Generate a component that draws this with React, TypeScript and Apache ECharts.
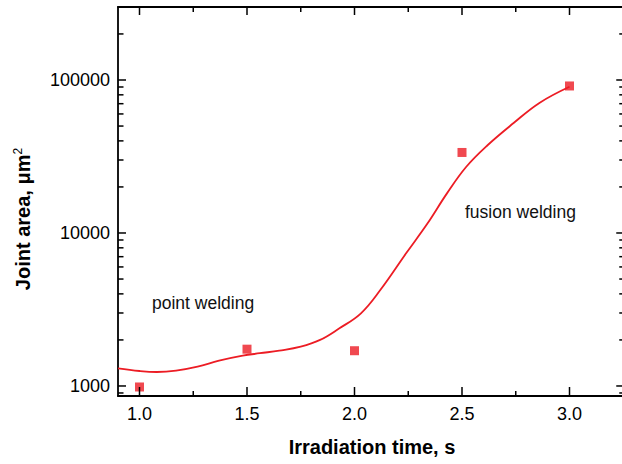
import React, { useEffect, useRef } from "react";
import * as echarts from "echarts";

const pointX = [1.0, 1.5, 2.0, 2.5, 3.0];
const pointY = [985, 1740, 1700, 33600, 91400];

const curveX = [0.9, 1.0, 1.08, 1.17, 1.27, 1.37, 1.48, 1.56, 1.65, 1.75, 1.84, 1.93, 2.03, 2.12, 2.24, 2.34, 2.43, 2.52, 2.62, 2.74, 2.86, 3.0];
const curveY = [1305, 1253, 1234, 1259, 1337, 1463, 1578, 1637, 1702, 1807, 2000, 2383, 2985, 4236, 7362, 11560, 18150, 27100, 37600, 52300, 70800, 90300];

const xMajor = [1.0, 1.5, 2.0, 2.5, 3.0];
const xMinor = [1.25, 1.75, 2.25, 2.75];
const yMajor = [1000, 10000, 100000];
const yMinor = [900, 2000, 3000, 4000, 5000, 6000, 7000, 8000, 9000, 20000, 30000, 40000, 50000, 60000, 70000, 80000, 90000, 200000];

const X_MIN = 0.9;
const X_MAX = 3.25;
const Y_MIN = 860;
const Y_MAX = 300000;

const FONT = "'Liberation Sans', Arial, sans-serif";
const RED = "#ec1c24";
const AX = { color: "#000", width: 1.8 };
const TICK = { stroke: "#000", lineWidth: 1.5 };

export default function App() {
  const ref = useRef<HTMLDivElement>(null);
  useEffect(() => {
    if (!ref.current) return;
    const chart = echarts.init(ref.current, undefined, { renderer: "svg" });

    chart.setOption({
      animation: false,
      backgroundColor: "#fff",
      grid: { left: 118, top: 7, width: 505.25, height: 389, containLabel: false, outerBoundsMode: "none" },
      xAxis: [
        {
          type: "value",
          position: "bottom",
          min: X_MIN,
          max: X_MAX,
          axisLine: { show: true, onZero: false, lineStyle: AX },
          axisTick: { show: false },
          axisLabel: { show: true, customValues: xMajor, formatter: (v: number) => v.toFixed(1), margin: 9, fontSize: 18, color: "#000", fontFamily: FONT },
          splitLine: { show: false },
        },
        {
          type: "value",
          position: "top",
          min: X_MIN,
          max: X_MAX,
          axisLine: { show: true, onZero: false, lineStyle: AX },
          axisTick: { show: false },
          axisLabel: { show: false },
          splitLine: { show: false },
        },
      ],
      yAxis: [
        {
          type: "log",
          logBase: 10,
          position: "left",
          min: Y_MIN,
          max: Y_MAX,
          axisLine: { show: true, onZero: false, lineStyle: AX },
          axisTick: { show: false },
          axisLabel: { show: true, customValues: yMajor, formatter: (v: number) => String(Math.round(v)), margin: 8, fontSize: 18, color: "#000", fontFamily: FONT },
          splitLine: { show: false },
        },
      ],
      series: [
        {
          type: "line",
          data: curveX.map((x, i) => [x, curveY[i]]),
          smooth: 0.4,
          showSymbol: false,
          lineStyle: { color: RED, width: 1.8 },
          z: 2,
        },
        {
          type: "scatter",
          data: pointX.map((x, i) => [x, pointY[i]]),
          symbol: "rect",
          symbolSize: 9,
          itemStyle: { color: RED },
          z: 3,
        },
      ],
    });

    const P = (x: number, y: number) => chart.convertToPixel({ xAxisIndex: 0, yAxisIndex: 0 } as any, [x, y]) as number[];
    const ticks: any[] = [];
    const seg = (x1: number, y1: number, x2: number, y2: number) =>
      ticks.push({ type: "line", silent: true, z: 50, shape: { x1, y1, x2, y2 }, style: TICK });
    xMajor.forEach((v) => {
      const b = P(v, Y_MIN);
      const t = P(v, Y_MAX);
      seg(b[0], b[1], b[0], b[1] - 9);
      seg(t[0], t[1], t[0], t[1] + 8);
    });
    xMinor.forEach((v) => {
      const b = P(v, Y_MIN);
      const t = P(v, Y_MAX);
      seg(b[0], b[1], b[0], b[1] - 5);
      seg(t[0], t[1], t[0], t[1] + 5);
    });
    yMajor.forEach((v) => {
      const l = P(X_MIN, v);
      const r = P(X_MAX, v);
      seg(l[0], l[1], l[0] + 8, l[1]);
      seg(r[0], r[1], r[0] - 7, r[1]);
    });
    yMinor.forEach((v) => {
      const l = P(X_MIN, v);
      const r = P(X_MAX, v);
      seg(l[0], l[1], l[0] + 5.5, l[1]);
      seg(r[0], r[1], r[0] - 4, r[1]);
    });

    chart.setOption({
      graphic: [
        ...ticks,
        {
          type: "text",
          x: 152,
          y: 303,
          style: { text: "point welding", fontSize: 17.5, fontFamily: FONT, fill: "#111", align: "left", verticalAlign: "middle" },
        },
        {
          type: "text",
          x: 465,
          y: 212,
          style: { text: "fusion welding", fontSize: 17.5, fontFamily: FONT, fill: "#111", align: "left", verticalAlign: "middle" },
        },
        {
          type: "text",
          x: 372,
          y: 447,
          style: { text: "Irradiation time, s", fontSize: 20, fontWeight: "bold", fontFamily: FONT, fill: "#000", align: "center", verticalAlign: "middle" },
        },
        {
          type: "text",
          x: 23,
          y: 219,
          rotation: Math.PI / 2,
          style: {
            text: "Joint area, μm{sup|2}",
            fontSize: 20,
            fontWeight: "bold",
            fontFamily: FONT,
            fill: "#000",
            align: "center",
            verticalAlign: "middle",
            rich: {
              sup: { fontSize: 12, fontFamily: FONT, fill: "#000", padding: [0, 0, 10, 0] },
            },
          },
        },
      ],
    });
    return () => chart.dispose();
  }, []);
  return <div ref={ref} style={{ position: "fixed", left: 0, top: 0, width: 622, height: 464 }} />;
}
